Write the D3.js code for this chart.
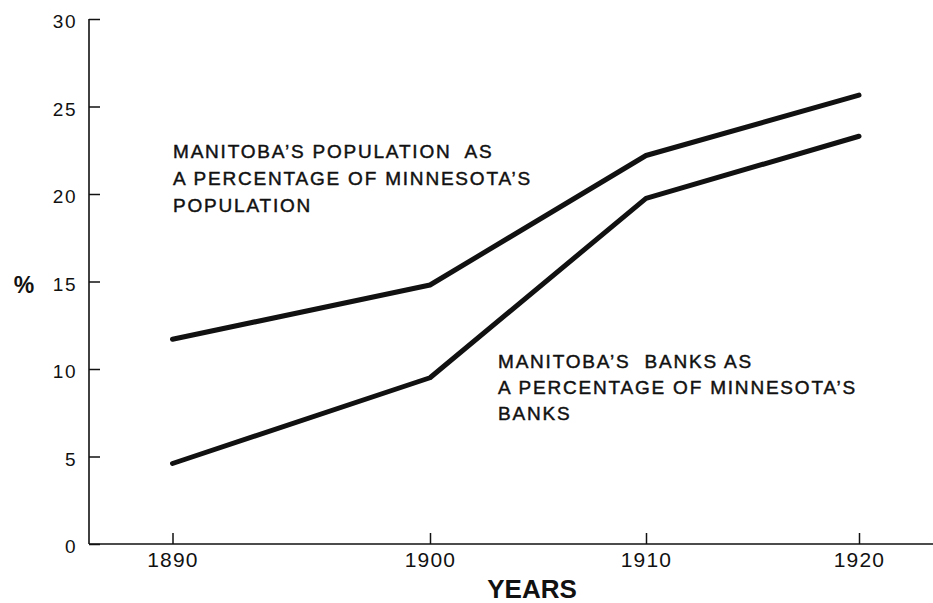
<!DOCTYPE html>
<html>
<head>
<meta charset="utf-8">
<script src="https://cdn.jsdelivr.net/npm/d3@7"></script>
<style>
  html, body { margin: 0; padding: 0; background: #fff; }
  svg { display: block; }
  text { font-family: "Liberation Sans", Arial, sans-serif; fill: #111; white-space: pre; }
</style>
</head>
<body>
<svg id="chart" width="933" height="603"></svg>
<script>
// ---- data ----
const years = [1890, 1900, 1910, 1920];
const populationPct = [11.7, 14.8, 22.2, 25.65];
const banksPct = [4.6, 9.5, 19.75, 23.3];
const yTicks = [0, 5, 10, 15, 20, 25, 30];
const populationLabel = ["MANITOBA\u2019S POPULATION  AS", "A PERCENTAGE OF MINNESOTA\u2019S", "POPULATION"];
const banksLabel = ["MANITOBA\u2019S  BANKS AS", "A PERCENTAGE OF MINNESOTA\u2019S", "BANKS"];
const xTitle = "YEARS";
const yTitle = "%";

// ---- layout ----
const W = 933, H = 603;
const axisX = 89, axisY = 544, topY = 19;
const svg = d3.select("#chart");

const x = d3.scaleLinear().domain(years).range([172.5, 430, 646, 859]);
const y = d3.scaleLinear().domain([0, 30]).range([axisY, topY]);

// axis lines
svg.append("line").attr("x1", axisX).attr("x2", axisX).attr("y1", topY).attr("y2", axisY)
  .attr("stroke", "#111").attr("stroke-width", 1.6);
svg.append("line").attr("x1", axisX).attr("x2", W).attr("y1", axisY).attr("y2", axisY)
  .attr("stroke", "#111").attr("stroke-width", 1.6);

// y axis ticks & labels
const yAxis = d3.axisLeft(y).tickValues(yTicks).tickSizeInner(-11).tickSizeOuter(0).tickPadding(12)
  .tickFormat(d3.format("d"));
const gy = svg.append("g").attr("transform", `translate(${axisX},0)`).call(yAxis);
gy.select(".domain").remove();
gy.selectAll(".tick line").attr("stroke", "#111").attr("stroke-width", 1.5);
gy.selectAll(".tick text").attr("font-size", 19).attr("font-family", "Liberation Sans, Arial, sans-serif")
  .attr("fill", "#111").attr("letter-spacing", 1.5).attr("dy", "0.45em");

// x axis ticks & labels
const xAxis = d3.axisBottom(x).tickValues(years).tickSizeInner(-11).tickSizeOuter(0).tickPadding(8)
  .tickFormat(d3.format("d"));
const gx = svg.append("g").attr("transform", `translate(0,${axisY})`).call(xAxis);
gx.select(".domain").remove();
gx.selectAll(".tick line").attr("stroke", "#111").attr("stroke-width", 1.5);
gx.selectAll(".tick text").attr("font-size", 21).attr("font-family", "Liberation Sans, Arial, sans-serif")
  .attr("fill", "#111").attr("letter-spacing", 1.2);

// series lines
const line = d3.line().x((d, i) => x(years[i])).y(d => y(d));
[populationPct, banksPct].forEach(s => {
  svg.append("path").datum(s).attr("d", line).attr("fill", "none")
    .attr("stroke", "#111").attr("stroke-width", 5)
    .attr("stroke-linecap", "round").attr("stroke-linejoin", "round");
});

// annotations
function block(lines, x0, y0, step) {
  const t = svg.append("text").attr("font-size", 19).attr("letter-spacing", 1.8)
    .attr("stroke", "#111").attr("stroke-width", 0.45).attr("xml:space", "preserve");
  lines.forEach((l, i) => {
    t.append("tspan").attr("x", x0).attr("y", y0 + i * step).text(l);
  });
}
block(populationLabel, 173, 158, 27);
block(banksLabel, 498, 368, 26);

// axis titles
svg.append("text").attr("x", 532).attr("y", 598).attr("text-anchor", "middle")
  .attr("font-size", 26).attr("font-weight", "bold").text(xTitle);
svg.append("text").attr("x", 24).attr("y", 293).attr("text-anchor", "middle")
  .attr("font-size", 23).attr("font-weight", "bold").text(yTitle);
</script>
</body>
</html>
